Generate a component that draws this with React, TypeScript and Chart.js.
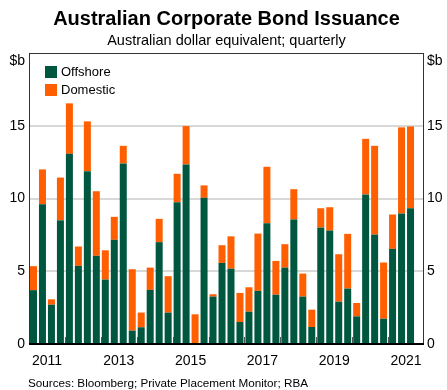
import React, { useEffect, useRef } from 'react';
import { Chart, registerables } from 'chart.js';
Chart.register(...registerables);

const FONT = '"Liberation Sans", Arial, Helvetica, sans-serif';

const years = [2011, 2012, 2013, 2014, 2015, 2016, 2017, 2018, 2019, 2020, 2021];
const quarters = ['Q1', 'Q2', 'Q3', 'Q4'];
const categories = years.flatMap((y) => quarters.map((q) => `${q} ${y}`));

// $b, quarterly, 2011 Q1 .. 2021 Q4 (last quarter empty)
const offshore = [
  3.7, 9.6, 2.7, 8.5,
  13.07, 5.37, 11.88, 6.06,
  4.43, 7.16, 12.41, 0.92,
  1.15, 3.72, 7.0, 2.16,
  9.75, 12.34, 0.07, 10.05,
  3.26, 5.57, 5.18, 1.51,
  2.22, 3.65, 8.3, 3.39,
  5.25, 8.56, 3.26, 1.17,
  8.0, 7.8, 2.91, 3.81,
  1.9, 10.28, 7.52, 1.74,
  6.54, 8.97, 9.33, null,
];
const domestic = [
  1.65, 2.4, 0.37, 2.94,
  3.47, 1.33, 3.42, 4.44,
  2.01, 1.58, 1.21, 4.22,
  1.01, 1.53, 1.6, 2.5,
  1.95, 2.64, 1.97, 0.85,
  0.16, 1.22, 2.22, 2.0,
  1.68, 3.94, 3.88, 2.32,
  1.61, 2.08, 1.58, 1.19,
  1.33, 1.6, 3.26, 3.76,
  0.92, 3.82, 6.1, 3.86,
  2.36, 5.92, 5.62, null,
];

const yearTickLabels = ['2011', '2013', '2015', '2017', '2019', '2021'];
const yMax = 20;
const yStep = 5;

const GREEN = '#00573f';
const ORANGE = '#ff5f00';

const framePlugin = {
  id: 'frame',
  beforeDatasetsDraw(chart: any) {
    const { ctx, chartArea } = chart;
    const xs = chart.scales.x2;
    ctx.save();
    ctx.strokeStyle = '#555';
    ctx.lineWidth = 1;
    for (let v = 4; v < categories.length; v += 4) {
      const x = Math.round(xs.getPixelForValue(v)) + 0.5;
      ctx.beginPath();
      ctx.moveTo(x, chartArea.bottom);
      ctx.lineTo(x, chartArea.bottom - 7);
      ctx.stroke();
    }
    ctx.restore();
  },
  afterDatasetsDraw(chart: any) {
    const { ctx, chartArea } = chart;
    const { left, right, top, bottom } = chartArea;
    ctx.save();
    ctx.strokeStyle = '#333';
    ctx.lineWidth = 1;
    ctx.strokeRect(left + 0.5, top + 0.5, right - left - 1, bottom - top);
    ctx.strokeStyle = '#000';
    ctx.lineWidth = 2;
    ctx.beginPath();
    ctx.moveTo(left, bottom);
    ctx.lineTo(right, bottom);
    ctx.stroke();
    ctx.restore();
  },
};

const yTickLabel = (v: any) => (v === yMax ? ['', '$b'] : String(v));

export default function App() {
  const ref = useRef<HTMLCanvasElement>(null);

  useEffect(() => {
    if (!ref.current) return;
    Chart.defaults.font.family = FONT;
    Chart.defaults.font.size = 14;
    Chart.defaults.color = '#000';
    const chart = new Chart(ref.current, {
      type: 'bar',
      data: {
        labels: categories,
        datasets: [
          { label: 'Offshore', data: offshore, backgroundColor: GREEN, borderWidth: 0 },
          { label: 'Domestic', data: domestic, backgroundColor: ORANGE, borderWidth: 0 },
        ],
      },
      options: {
        responsive: false,
        maintainAspectRatio: false,
        animation: false,
        layout: { padding: { top: 53, left: 0, right: 0, bottom: 0 } },
        datasets: { bar: { barPercentage: 1, categoryPercentage: 0.78 } },
        plugins: { legend: { display: false }, tooltip: { enabled: false } },
        scales: {
          x: { type: 'category', stacked: true, display: false, offset: true },
          x2: {
            type: 'linear',
            position: 'bottom',
            min: 0,
            max: categories.length,
            offset: false,
            bounds: 'data',
            grid: { display: false, offset: false },
            border: { display: false },
            afterBuildTicks: (scale: any) => {
              scale.ticks = yearTickLabels.map((_, i) => ({ value: 2 + i * 8 }));
            },
            afterFit: (scale: any) => {
              scale.height = 46;
            },
            ticks: {
              autoSkip: false,
              maxRotation: 0,
              padding: 1,
              font: { size: 14 },
              callback: (v: any) => yearTickLabels[Math.round((v - 2) / 8)] ?? '',
            },
          },
          y: {
            stacked: true,
            min: 0,
            max: yMax,
            position: 'left',
            border: { display: false },
            grid: {
              drawTicks: false,
              color: (c: any) =>
                c.tick && (c.tick.value === 0 || c.tick.value === yMax) ? 'rgba(0,0,0,0)' : '#d8d8d8',
              lineWidth: 2,
            },
            afterFit: (scale: any) => {
              scale.width = 29;
            },
            ticks: { stepSize: yStep, padding: 4, font: { size: 14 }, callback: yTickLabel },
          },
          y1: {
            display: true,
            min: 0,
            max: yMax,
            position: 'right',
            border: { display: false },
            grid: { drawOnChartArea: false, drawTicks: false },
            afterFit: (scale: any) => {
              scale.width = 23;
            },
            ticks: { stepSize: yStep, padding: 3, font: { size: 14 }, callback: yTickLabel },
          },
        },
      },
      plugins: [framePlugin],
    } as any);
    return () => chart.destroy();
  }, []);

  const abs = (s: React.CSSProperties): React.CSSProperties => ({
    position: 'absolute',
    fontFamily: FONT,
    color: '#000',
    whiteSpace: 'nowrap',
    lineHeight: 1,
    ...s,
  });

  return (
    <div style={{ position: 'fixed', left: 0, top: 0, width: 447, height: 390, background: '#fff' }}>
      <canvas ref={ref} width={447} height={390} style={{ position: 'absolute', left: 0, top: 0 }} />
      <div style={abs({ left: 0, width: 453, top: 8, textAlign: 'center', fontSize: 20, fontWeight: 'bold' })}>
        Australian Corporate Bond Issuance
      </div>
      <div style={abs({ left: 0, width: 453, top: 33, textAlign: 'center', fontSize: 14.5 })}>
        Australian dollar equivalent; quarterly
      </div>
      <div style={abs({ left: 45, top: 65, fontSize: 13, display: 'flex', alignItems: 'center' })}>
        <span style={{ display: 'inline-block', width: 12, height: 12, background: GREEN, marginRight: 4 }} />
        Offshore
      </div>
      <div style={abs({ left: 45, top: 83, fontSize: 13, display: 'flex', alignItems: 'center' })}>
        <span style={{ display: 'inline-block', width: 12, height: 12, background: ORANGE, marginRight: 4 }} />
        Domestic
      </div>
      <div style={abs({ left: 28, top: 376.5, fontSize: 11.7 })}>
        Sources: Bloomberg; Private Placement Monitor; RBA
      </div>
    </div>
  );
}
